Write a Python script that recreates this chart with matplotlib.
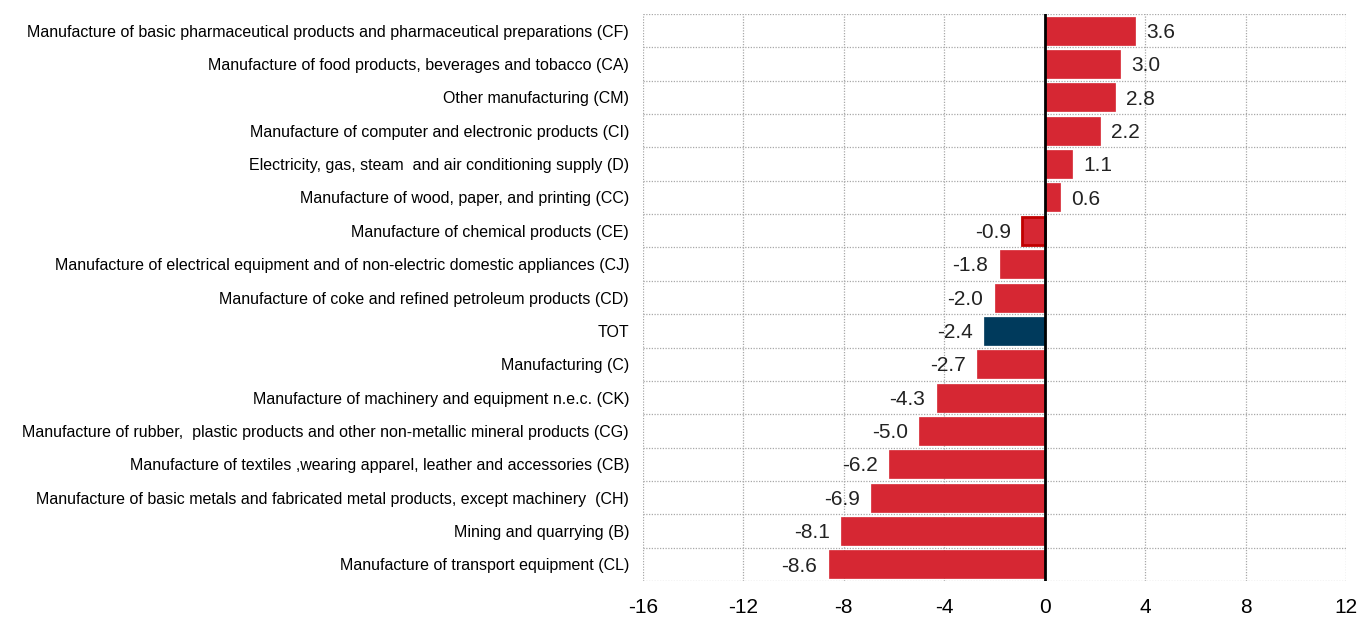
import matplotlib
matplotlib.use("Agg")
import matplotlib.pyplot as plt
from matplotlib import font_manager

# data, top to bottom as in the chart
sectors = [
    "Manufacture of basic pharmaceutical products and pharmaceutical preparations (CF)",
    "Manufacture of food products, beverages and tobacco (CA)",
    "Other manufacturing (CM)",
    "Manufacture of computer and electronic products (CI)",
    "Electricity, gas, steam  and air conditioning supply (D)",
    "Manufacture of wood, paper, and printing (CC)",
    "Manufacture of chemical products (CE)",
    "Manufacture of electrical equipment and of non-electric domestic appliances (CJ)",
    "Manufacture of coke and refined petroleum products (CD)",
    "TOT",
    "Manufacturing (C)",
    "Manufacture of machinery and equipment n.e.c. (CK)",
    "Manufacture of rubber,  plastic products and other non-metallic mineral products (CG)",
    "Manufacture of textiles ,wearing apparel, leather and accessories (CB)",
    "Manufacture of basic metals and fabricated metal products, except machinery  (CH)",
    "Mining and quarrying (B)",
    "Manufacture of transport equipment (CL)",
]
values = [3.6, 3.0, 2.8, 2.2, 1.1, 0.6, -0.9, -1.8, -2.0, -2.4, -2.7, -4.3, -5.0, -6.2, -6.9, -8.1, -8.6]
x_ticks = [-16, -12, -8, -4, 0, 4, 8, 12]

names = {f.name for f in font_manager.fontManager.ttflist}
font = "Liberation Sans Narrow" if "Liberation Sans Narrow" in names else "Liberation Sans"
plt.rcParams["font.family"] = [font, "DejaVu Sans"]

red = "#d62733"
navy = "#003a5c"

fig = plt.figure(figsize=(13.6, 6.17), dpi=100)
ax = fig.add_axes([0.4728, 0.0583, 0.5169, 0.919])

n = len(values)
ypos = list(range(n))
colors = [navy if s == "TOT" else red for s in sectors]
edges = ["#c00000" if s.endswith("(CE)") else c for s, c in zip(sectors, colors)]
lws = [2 if s.endswith("(CE)") else 0.5 for s in sectors]
ax.barh(ypos, values, height=0.84, color=colors, edgecolor=edges, linewidth=lws, zorder=3)

for y, v in zip(ypos, values):
    if v >= 0:
        ax.text(v + 0.45, y + 0.05, f"{v:.1f}", va="center", ha="left", fontsize=15, color="#222222")
    else:
        ax.text(v - 0.45, y + 0.05, f"{v:.1f}", va="center", ha="right", fontsize=15, color="#222222")

ax.set_xlim(-16, 12)
ax.set_ylim(n - 0.5, -0.5)
ax.set_xticks(x_ticks)
ax.set_xticklabels([str(t) for t in x_ticks], fontsize=15)
ax.set_yticks(ypos)
ax.set_yticklabels(sectors, fontsize=11.5)
ax.set_yticks([i - 0.5 for i in range(n + 1)], minor=True)
ax.tick_params(axis="both", which="both", length=0)
ax.tick_params(axis="x", pad=12)
ax.tick_params(axis="y", pad=10)

grid_style = dict(color="#a8a8a8", linestyle=(0, (1, 1.2)), linewidth=0.9, zorder=0)
ax.grid(True, axis="x", which="major", **grid_style)
ax.grid(True, axis="y", which="minor", **grid_style)
for s in ax.spines.values():
    s.set_visible(False)
ax.axvline(0, color="black", linewidth=2, zorder=4)

fig.savefig("out.png", dpi=100)
